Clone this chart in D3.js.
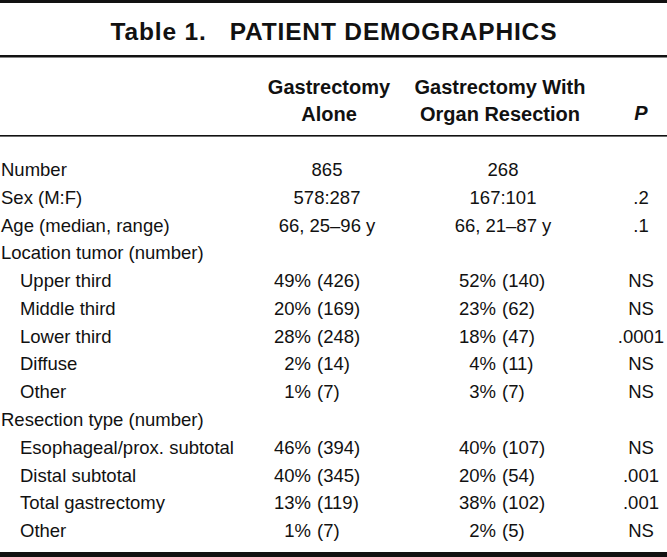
<!DOCTYPE html>
<html>
<head>
<meta charset="utf-8">
<script src="https://cdn.jsdelivr.net/npm/d3@7"></script>
<style>
  html, body { margin: 0; padding: 0; background: #fff; }
  svg { display: block; }
  text { font-family: "Liberation Sans", Arial, Helvetica, sans-serif; fill: #111; }
</style>
</head>
<body>
<svg id="chart" width="667" height="557"></svg>
<script>
// ---- Data ----
const titleText = "Table 1.   PATIENT DEMOGRAPHICS";
const columnHeaders = [["Gastrectomy", "Alone"], ["Gastrectomy With", "Organ Resection"]];
const pHeader = "P";
const rowLabels = [
  "Number", "Sex (M:F)", "Age (median, range)", "Location tumor (number)",
  "Upper third", "Middle third", "Lower third", "Diffuse", "Other",
  "Resection type (number)",
  "Esophageal/prox. subtotal", "Distal subtotal", "Total gastrectomy", "Other"
];
const rowIndent = [0, 0, 0, 0, 1, 1, 1, 1, 1, 0, 1, 1, 1, 1];
const aloneValues = [
  "865", "578:287", "66, 25\u201396 y", "",
  "49% (426)", "20% (169)", "28% (248)", "2% (14)", "1% (7)",
  "",
  "46% (394)", "40% (345)", "13% (119)", "1% (7)"
];
const withValues = [
  "268", "167:101", "66, 21\u201387 y", "",
  "52% (140)", "23% (62)", "18% (47)", "4% (11)", "3% (7)",
  "",
  "40% (107)", "20% (54)", "38% (102)", "2% (5)"
];
const pValues = [
  "", ".2", ".1", "",
  "NS", "NS", ".0001", "NS", "NS",
  "",
  "NS", ".001", ".001", "NS"
];

// ---- Layout ----
const W = 667, H = 557;
const svg = d3.select("#chart");

const y = d3.scalePoint().domain(d3.range(rowLabels.length)).range([169.5, 530.5]);
const colCenter = d3.scaleOrdinal().domain(["alone", "with", "p"]).range([327, 503, 641]);
const colPctEnd = d3.scaleOrdinal().domain(["alone", "with"]).range([311, 496]);
const labelX = d3.scaleOrdinal().domain([0, 1]).range([1, 20]);
const bodySize = 18.5;
const baseOff = 6.6;

// rules
const rules = [
  {y: 0, h: 3},
  {y: 55, h: 2.5},
  {y: 135, h: 1.6},
  {y: 552, h: 5}
];
svg.selectAll("rect.rule").data(rules).join("rect")
  .attr("class", "rule")
  .attr("x", 0).attr("width", W)
  .attr("y", d => d.y).attr("height", d => d.h)
  .attr("fill", "#111");

// title
svg.append("text")
  .attr("x", W / 2).attr("y", 40)
  .attr("text-anchor", "middle")
  .attr("font-size", 24.5).attr("font-weight", "bold")
  .attr("textLength", 446).attr("lengthAdjust", "spacing")
  .attr("xml:space", "preserve")
  .style("white-space", "pre")
  .text(titleText);

// headers
const hdr = svg.append("g");
columnHeaders.forEach((lines, i) => {
  lines.forEach((ln, j) => {
    hdr.append("text")
      .attr("x", i === 0 ? 329 : 500).attr("y", 94 + j * 26.5)
      .attr("text-anchor", "middle")
      .attr("font-size", 20).attr("font-weight", "bold")
      .text(ln);
  });
});
hdr.append("text")
  .attr("x", colCenter("p")).attr("y", 120)
  .attr("text-anchor", "middle")
  .attr("font-size", 20).attr("font-weight", "bold").attr("font-style", "italic")
  .text(pHeader);

// body
const body = svg.append("g").attr("font-size", bodySize);
body.selectAll("text.label").data(rowLabels).join("text")
  .attr("class", "label")
  .attr("x", (d, i) => labelX(rowIndent[i]))
  .attr("y", (d, i) => y(i) + baseOff)
  .text(d => d);

function drawValues(vals, key) {
  vals.forEach((v, i) => {
    if (!v) return;
    const m = v.match(/^(\d+%)\s(.*)$/);
    if (m) {
      body.append("text").attr("x", colPctEnd(key)).attr("y", y(i) + baseOff)
        .attr("text-anchor", "end").text(m[1]);
      body.append("text").attr("x", colPctEnd(key) + 6).attr("y", y(i) + baseOff)
        .attr("text-anchor", "start").text(m[2]);
    } else {
      body.append("text").attr("x", colCenter(key)).attr("y", y(i) + baseOff)
        .attr("text-anchor", "middle").text(v);
    }
  });
}
drawValues(aloneValues, "alone");
drawValues(withValues, "with");

body.selectAll("text.pv").data(pValues).join("text")
  .attr("class", "pv")
  .attr("x", colCenter("p"))
  .attr("y", (d, i) => y(i) + baseOff)
  .attr("text-anchor", "middle")
  .text(d => d);
</script>
</body>
</html>
